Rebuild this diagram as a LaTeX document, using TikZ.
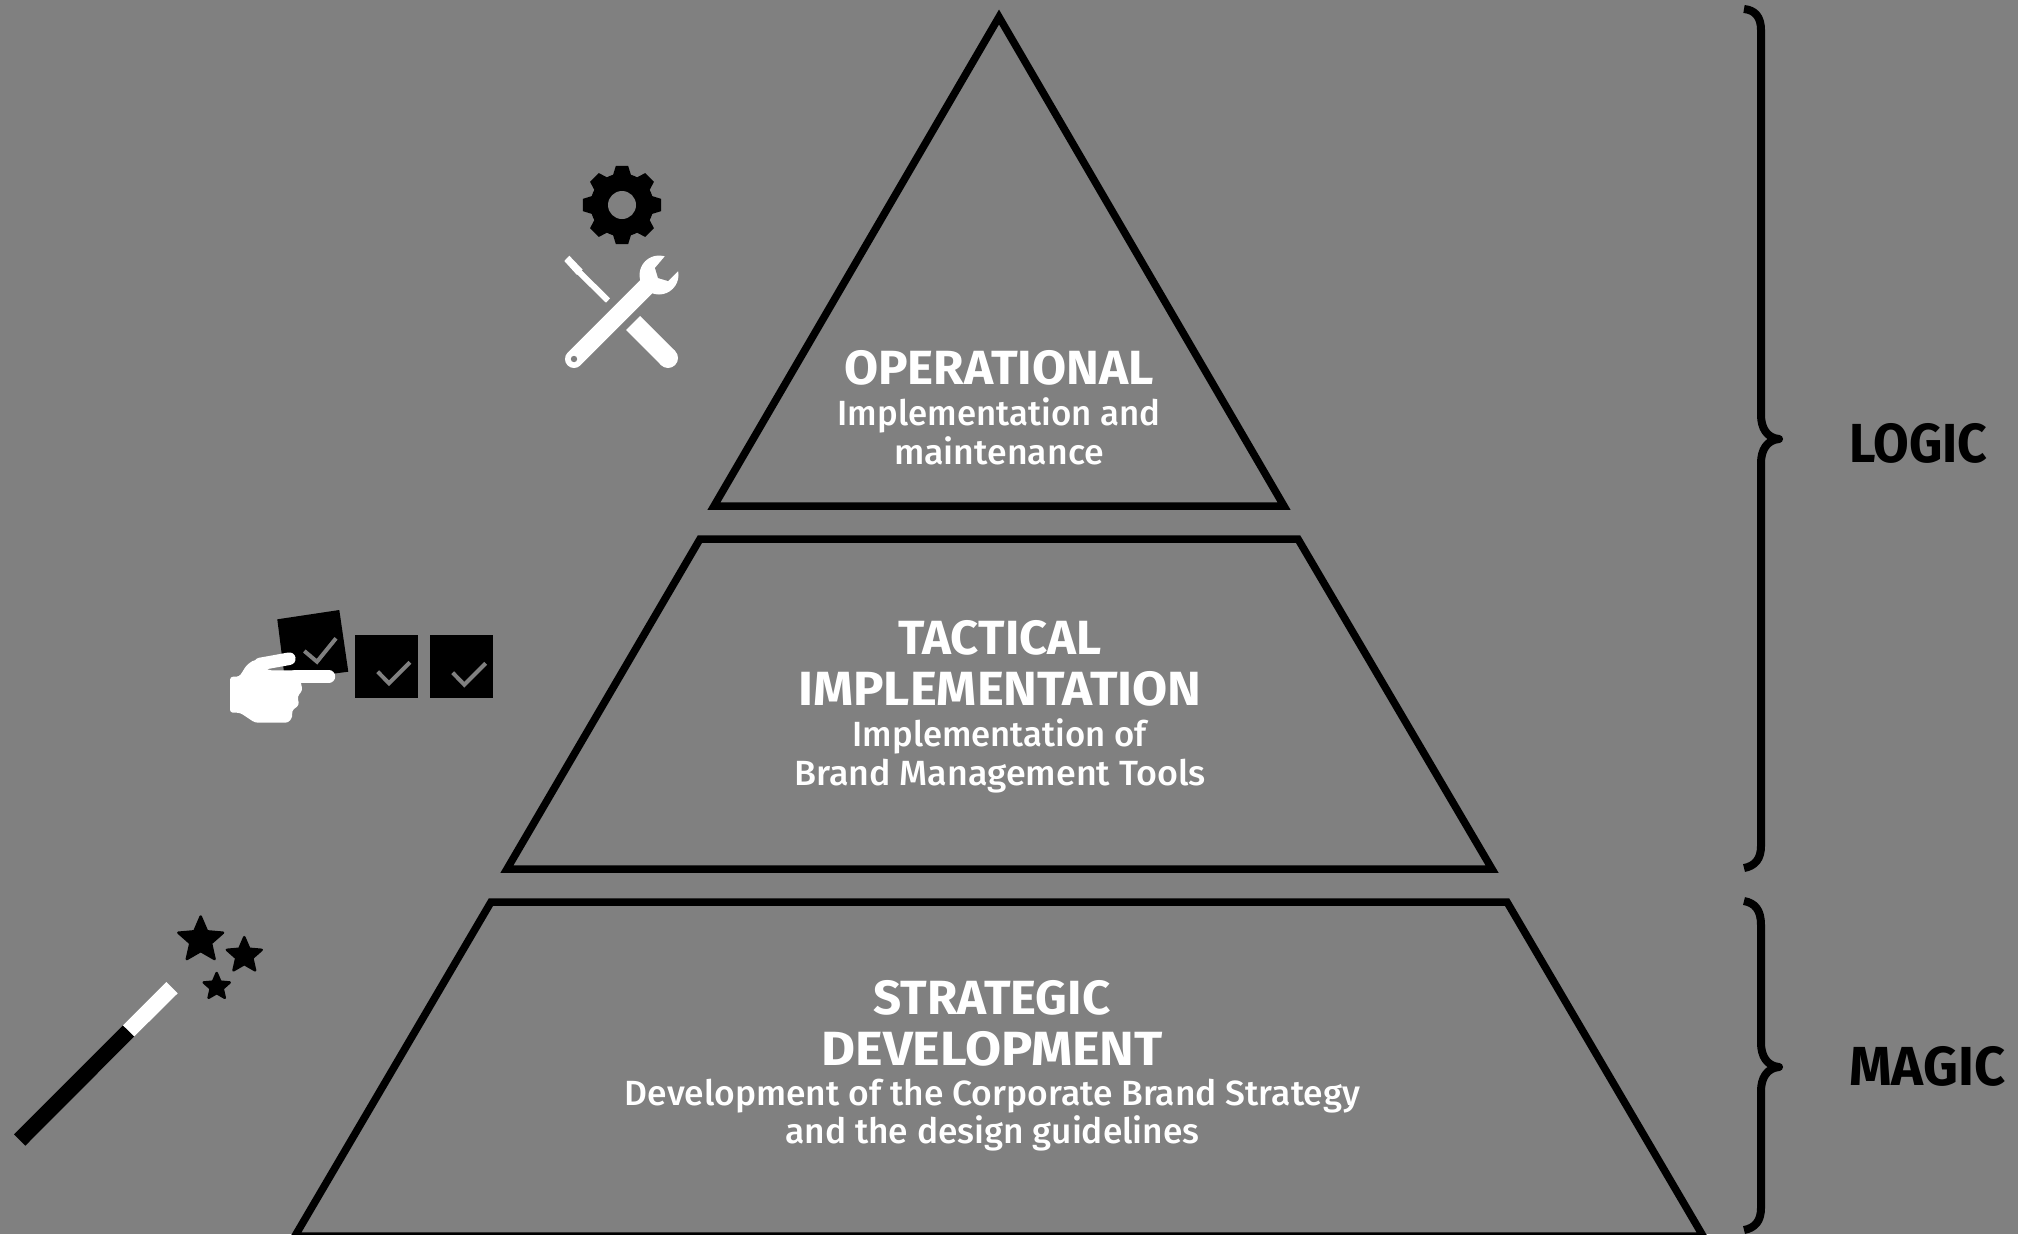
\documentclass[tikz,border=0pt]{standalone}
\usepackage{fontspec}
\setmainfont{Fira Sans}[UprightFont=* Medium]
\newfontfamily\titlefont[UprightFont=* Bold]{Fira Sans}
\definecolor{bggray}{HTML}{808080}
\tikzset{
  tier/.style={draw=black,line width=7.5pt,miter limit=10},
  ttl/.style={anchor=base,inner sep=0pt,text=white,font=\titlefont\fontsize{48}{48}\selectfont},
  sub/.style={anchor=base,inner sep=0pt,text=white,font=\fontsize{35}{35}\selectfont},
  side/.style={anchor=base west,inner sep=0pt,text=black,font=\titlefont\fontsize{55}{55}\selectfont},
  bracepath/.style={draw=black,line width=8pt,line join=round},
  checkbox/.style={fill=black},
  tick/.style={draw=bggray,line width=4pt},
  icon/.style={fill=white}
}
\newcommand{\starshape}[3]{% cx cy r
  \filldraw[black,line width=2.5pt,line join=round] (#1+0*#3,#2-1*#3)
   -- (#1+0.27*#3,#2-0.37*#3) -- (#1+0.95*#3,#2-0.31*#3) -- (#1+0.44*#3,#2+0.14*#3)
   -- (#1+0.59*#3,#2+0.81*#3) -- (#1+0*#3,#2+0.47*#3) -- (#1-0.59*#3,#2+0.81*#3)
   -- (#1-0.44*#3,#2+0.14*#3) -- (#1-0.95*#3,#2-0.31*#3) -- (#1-0.27*#3,#2-0.37*#3) -- cycle;}
\begin{document}
\begin{tikzpicture}[x=1pt,y=-1pt]
\fill[bggray] (0,0) rectangle (2018,1234);
\useasboundingbox (0,0) rectangle (2018,1234);
% pyramid tiers
\draw[tier] (999,17) -- (1284,506) -- (714,506) -- cycle;
\draw[tier] (700,539) -- (1298,539) -- (1492,869) -- (507,869) -- cycle;
\draw[tier] (491,902) -- (1507,902) -- (1703,1236) -- (295,1236) -- cycle;
% tier text
\node[ttl,xscale=1.03] (t1) at (999,384) {OPERATIONAL};
\node[sub,xscale=.995] (t1a) at (999,425.5) {Implementation and};
\node[sub,xscale=1.02] (t1b) at (999,464) {maintenance};
\node[ttl,xscale=1.02] (t2) at (1000,654) {TACTICAL};
\node[ttl,xscale=1.062] (t2x) at (1000,705) {IMPLEMENTATION};
\node[sub,xscale=.99] (t2a) at (999.5,746) {Implementation of};
\node[sub,xscale=1.025] (t2b) at (1000,785) {Brand Management Tools};
\node[ttl,xscale=1.025] (t3) at (992,1014) {STRATEGIC};
\node[ttl,xscale=1.09] (t3x) at (992,1065) {DEVELOPMENT};
\node[sub,xscale=1.012] (t3a) at (992.5,1105) {Development of the Corporate Brand Strategy};
\node[sub,xscale=1.01] (t3b) at (992.5,1143) {and the design guidelines};
% braces
\draw[bracepath] (1744,9) .. controls (1755,10) and (1761,17) .. (1761,30) -- (1761,415)
  .. controls (1761,428) and (1767,438) .. (1779,439)
  .. controls (1767,440) and (1761,450) .. (1761,463) -- (1761,846)
  .. controls (1761,859) and (1755,866) .. (1744,868);
\draw[bracepath] (1744,901) .. controls (1755,903) and (1761,910) .. (1761,925) -- (1761,1043)
  .. controls (1761,1056) and (1767,1066) .. (1779,1067)
  .. controls (1767,1068) and (1761,1078) .. (1761,1091) -- (1761,1208)
  .. controls (1761,1221) and (1755,1228) .. (1744,1230);
\node[side,xscale=.94] (logic) at (1849,462) {LOGIC};
\node[side,xscale=.985] (magic) at (1849,1085) {MAGIC};
% gear
\begin{scope}[shift={(622,205)}]
\fill[black] (0,0) circle[radius=31.5];
\foreach \a in {0,45,...,315}
  \fill[black] (\a-17:31) -- (\a-9:39.5) -- (\a+9:39.5) -- (\a+17:31) -- cycle;
\fill[bggray] (0,0) circle[radius=14];
\end{scope}
% tools: screwdriver
\fill[icon] (569.3,255.7) -- (564.3,261) -- (577,275) -- (582.5,269.5) -- cycle;
\draw[white,line width=6pt] (578,271) -- (608,300.5);
\fill[icon] (626,330) -- (640,316) -- (675,351) -- (661,365) -- cycle;
\fill[icon] (668,358) circle[radius=10];
% tools: wrench
\fill[icon] (659,275) circle[radius=19.5];
\draw[white,line width=18pt,line cap=round] (574,359) -- (652,281);
\fill[bggray] (666,255) -- (655,268) -- (658,278) -- (668,281) -- (681,268) -- (681,255) -- cycle;
\fill[bggray] (574,359) circle[radius=3.2];
% checks
\fill[checkbox] (277.3,619.3) -- (339.3,610) -- (348.3,671.7) -- (285,680) -- cycle;
\draw[tick] (304.3,651) -- (317,661.7) -- (336,638.3);
\fill[checkbox] (355,635) rectangle (418,698);
\draw[tick] (377.7,671.7) -- (389,683.3) -- (410,662.3);
\fill[checkbox] (430,635) rectangle (493,698);
\draw[tick] (452.7,672.7) -- (464.3,684.7) -- (485.7,663.3);
% hand
\fill[icon,rounded corners=3pt] (230,676.7) -- (230,712.7) -- (240,712.7) -- (255,722.7) -- (288.3,722.7) -- (292.7,716.7) -- (291.7,710.7)
 -- (299.3,705) -- (297.3,696.7) -- (302.7,690) -- (300.7,682.7) -- (300.7,670.3) -- (268.3,670.3) -- (255,659.3) -- (246.7,665) -- (239.3,676.7) -- cycle;
\draw[white,line width=12.4pt,line cap=round] (295,676.5) -- (329,676.5);
\draw[white,line width=12.6pt,line cap=round] (260,664) -- (289.3,658.7);
% wand
\fill[black] (14,1134.3) -- (25.3,1145.7) -- (134.3,1036.3) -- (123,1025.3) -- cycle;
\fill[white] (123,1025.3) -- (134.3,1036.3) -- (177.7,993.3) -- (166.3,982) -- cycle;
\starshape{200.7}{940}{23.5}
\starshape{244.3}{955.5}{18.3}
\starshape{216.7}{986.7}{13.7}
\end{tikzpicture}
\end{document}
